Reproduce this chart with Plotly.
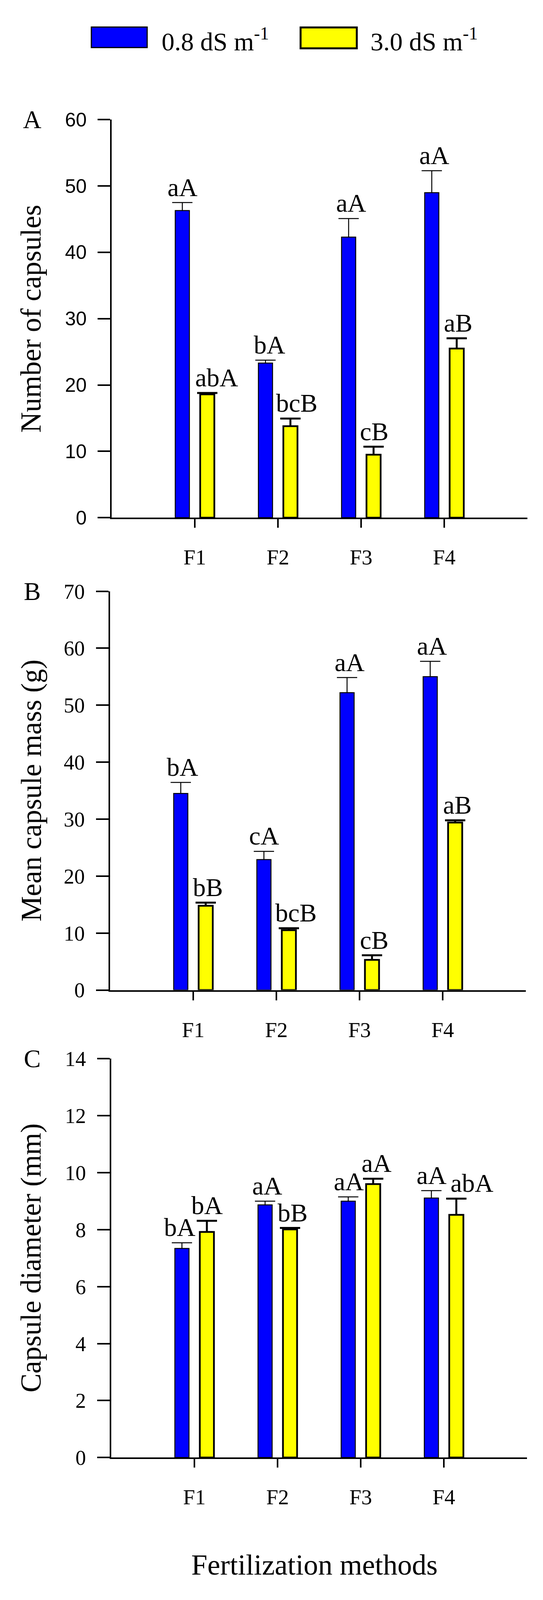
import plotly.graph_objects as go

# reference picture size, visible browser viewport, and the page margin
W, H = 1391, 4222
VIEW_H = 4096
PAGE_MARGIN = 8
S = VIEW_H / H                      # vertical fit of the reference layout into the viewport
FW, FH = W - 2 * PAGE_MARGIN, VIEW_H - 2 * PAGE_MARGIN

# ---------------- data ----------------
categories = ["F1", "F2", "F3", "F4"]
series_names = ["0.8 dS m<sup>-1</sup>", "3.0 dS m<sup>-1</sup>"]

capsules_low = [46.3, 23.3, 42.3, 49.0]
capsules_low_err = [1.2, 0.45, 2.8, 3.3]
capsules_high = [18.6, 13.8, 9.5, 25.5]
capsules_high_err = [0.2, 1.15, 1.2, 1.55]
capsules_low_letters = ["aA", "bA", "aA", "aA"]
capsules_high_letters = ["abA", "bcB", "cB", "aB"]

mass_low = [34.5, 22.9, 52.2, 55.0]
mass_low_err = [1.95, 1.45, 2.65, 2.7]
mass_high = [14.8, 10.5, 5.3, 29.4]
mass_high_err = [0.55, 0.35, 0.8, 0.4]
mass_low_letters = ["bA", "cA", "aA", "aA"]
mass_high_letters = ["bB", "bcB", "cB", "aB"]

diam_low = [7.34, 8.87, 9.00, 9.11]
diam_low_err = [0.2, 0.13, 0.15, 0.26]
diam_high = [7.92, 8.01, 9.60, 8.52]
diam_high_err = [0.39, 0.05, 0.19, 0.57]
diam_low_letters = ["bA", "aA", "aA", "aA"]
diam_high_letters = ["bA", "bB", "aA", "abA"]

y_titles = ["Number of capsules", "Mean capsule mass (g)", "Capsule diameter (mm)"]
panel_letters = ["A", "B", "C"]
y_max = [60, 70, 14]
y_step = [10, 10, 2]
x_title = "Fertilization methods"

# ---------------- style ----------------
BLUE = "#0000FF"
YELLOW = "#FFFF00"
SERIF = "Liberation Serif"
SANS = "Liberation Sans"
OFFSET = 0.15
BAR_W = 0.17
CAP_HW = 0.122


def px(x):
    return (x - PAGE_MARGIN) / FW


def py(y):
    return 1 - (y * S - PAGE_MARGIN) / FH


# panel geometry in reference pixels: (left, right, top, bottom)
geom = [(286, 1351, 290, 1356), (282, 1347, 1553, 2621), (285, 1350, 2805, 3873)]
# small horizontal nudges of letter labels (px)
letter_shift = [
    ([0, 10, 6, 6], [24, 16, 2, 4]),
    ([4, 0, 6, 4], [6, 18, 6, 6]),
    ([-6, 5, 1, 0], [1, 7, 9, 40]),
]

panels = [
    (capsules_low, capsules_low_err, capsules_high, capsules_high_err,
     capsules_low_letters, capsules_high_letters),
    (mass_low, mass_low_err, mass_high, mass_high_err,
     mass_low_letters, mass_high_letters),
    (diam_low, diam_low_err, diam_high, diam_high_err,
     diam_low_letters, diam_high_letters),
]

fig = go.Figure()
annotations = []
positions = list(range(1, len(categories) + 1))


def err_path(xs, vals, errs):
    ex, ey = [], []
    for x, v, e in zip(xs, vals, errs):
        ex += [x, x, None, x - CAP_HW, x + CAP_HW, None]
        ey += [v, v + e, None, v + e, v + e, None]
    return ex, ey


layout_axes = {}
for k, (lo, lo_e, hi, hi_e, lo_l, hi_l) in enumerate(panels):
    sfx = "" if k == 0 else str(k + 1)
    xr, yr = "x" + sfx, "y" + sfx
    left, right, top, bottom = geom[k]
    x_lo = [p - OFFSET for p in positions]
    x_hi = [p + OFFSET for p in positions]

    fig.add_trace(go.Bar(x=x_lo, y=lo, width=BAR_W, xaxis=xr, yaxis=yr,
                         marker=dict(color=BLUE, line=dict(color="black", width=2.5)),
                         name=series_names[0], showlegend=False, hoverinfo="skip"))
    fig.add_trace(go.Bar(x=x_hi, y=hi, width=BAR_W, xaxis=xr, yaxis=yr,
                         marker=dict(color=YELLOW, line=dict(color="black", width=4.5)),
                         name=series_names[1], showlegend=False, hoverinfo="skip"))
    ex, ey = err_path(x_lo, lo, lo_e)
    fig.add_trace(go.Scatter(x=ex, y=ey, mode="lines", xaxis=xr, yaxis=yr,
                             line=dict(color="black", width=2.5),
                             showlegend=False, hoverinfo="skip"))
    ex, ey = err_path(x_hi, hi, hi_e)
    fig.add_trace(go.Scatter(x=ex, y=ey, mode="lines", xaxis=xr, yaxis=yr,
                             line=dict(color="black", width=5),
                             showlegend=False, hoverinfo="skip"))

    for j in range(len(categories)):
        annotations.append(dict(x=x_lo[j], y=lo[j] + lo_e[j], xref=xr, yref=yr,
                                text=lo_l[j], showarrow=False, yanchor="bottom",
                                xshift=letter_shift[k][0][j], yshift=1,
                                font=dict(family=SERIF, size=66, color="black")))
        annotations.append(dict(x=x_hi[j], y=hi[j] + hi_e[j], xref=xr, yref=yr,
                                text=hi_l[j], showarrow=False, yanchor="bottom",
                                xshift=letter_shift[k][1][j], yshift=1,
                                font=dict(family=SERIF, size=66, color="black")))

    tick_font = dict(family=SANS if k == 0 else SERIF, size=50 if k == 0 else 54,
                     color="black")
    layout_axes["xaxis" + sfx] = dict(
        domain=[px(left), px(right)], anchor=yr, range=[0, len(categories) + 1],
        tickmode="array", tickvals=positions, ticktext=categories,
        showline=True, linewidth=4, linecolor="black", ticks="outside",
        ticklen=22, tickwidth=4, tickcolor="black", showgrid=False, zeroline=False,
        ticklabelstandoff=28, tickfont=dict(family=SERIF, size=55, color="black"),
        fixedrange=True)
    layout_axes["yaxis" + sfx] = dict(
        domain=[py(bottom), py(top)], anchor=xr, range=[0, y_max[k]],
        tick0=0, dtick=y_step[k], showline=True, linewidth=4, linecolor="black",
        ticks="outside", ticklen=32, tickwidth=4, tickcolor="black",
        showgrid=False, zeroline=False, ticklabelstandoff=18, tickfont=tick_font,
        fixedrange=True)

    # y-axis title
    annotations.append(dict(x=px(80), y=py((top + bottom) / 2), xref="paper", yref="paper",
                            text=y_titles[k], textangle=-90, showarrow=False,
                            xanchor="center", yanchor="middle",
                            font=dict(family=SERIF, size=73, color="black")))
    # panel letter
    annotations.append(dict(x=px(82), y=py(top), xref="paper", yref="paper",
                            text=panel_letters[k], showarrow=False,
                            xanchor="center", yanchor="middle",
                            font=dict(family=SERIF, size=65, color="black")))

# x-axis title
annotations.append(dict(x=px(805), y=py(4160), xref="paper", yref="paper",
                        text=x_title, showarrow=False, xanchor="center", yanchor="middle",
                        font=dict(family=SERIF, size=74, color="black")))

# legend (drawn manually to get the large swatches)
shapes = [
    dict(type="rect", xref="paper", yref="paper", x0=px(234), x1=px(377),
         y0=py(97), y1=py(42), fillcolor=BLUE, line=dict(color="black", width=3)),
    dict(type="rect", xref="paper", yref="paper", x0=px(770), x1=px(914),
         y0=py(99), y1=py(43), fillcolor=YELLOW, line=dict(color="black", width=5)),
]
annotations.append(dict(x=px(412), y=py(76), xref="paper", yref="paper",
                        text=series_names[0], showarrow=False, xanchor="left",
                        yanchor="middle", font=dict(family=SERIF, size=66, color="black")))
annotations.append(dict(x=px(947), y=py(76), xref="paper", yref="paper",
                        text=series_names[1], showarrow=False, xanchor="left",
                        yanchor="middle", font=dict(family=SERIF, size=66, color="black")))

fig.update_layout(
    width=FW, height=FH, autosize=False,
    margin=dict(l=0, r=0, t=0, b=0, pad=0),
    paper_bgcolor="white", plot_bgcolor="white",
    font=dict(family=SERIF, color="black"),
    showlegend=False, barmode="overlay",
    annotations=annotations, shapes=shapes,
    **layout_axes,
)

fig.write_html("out.html")
